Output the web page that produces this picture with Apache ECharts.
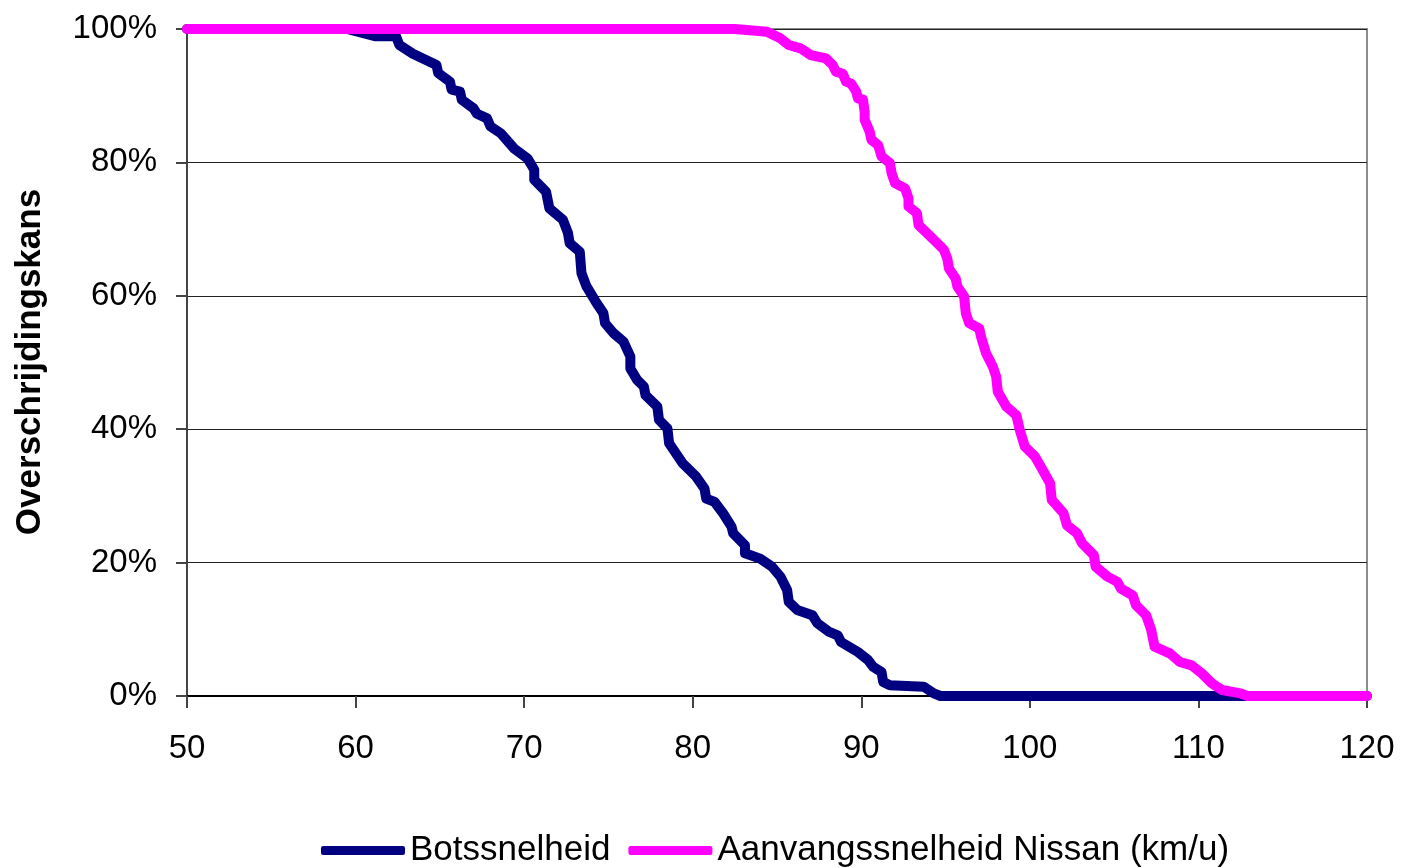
<!DOCTYPE html>
<html>
<head>
<meta charset="utf-8">
<script src="https://cdn.jsdelivr.net/npm/echarts@6/dist/echarts.min.js"></script>
<style>
html,body{margin:0;padding:0;background:#fff;}
#chart{width:1403px;height:868px;}
</style>
</head>
<body>
<div id="chart"></div>
<script>
// overschrijdingskans (%) tegen snelheid (km/u)
var seriesNames = ['Botssnelheid', 'Aanvangssnelheid Nissan (km/u)'];
var xTicks = [50, 60, 70, 80, 90, 100, 110, 120];
var yTicks = [0, 20, 40, 60, 80, 100];

var botsData = [
	[50,100],[59.5,100],[61.2,98.9],[62.4,98.9],[62.6,97.6],[63.4,96.3],[64.8,94.6],[64.9,93.4],
	[65.6,92.1],[65.7,90.9],[66.2,90.6],[66.3,89.4],[67.0,88.1],[67.2,87.3],[67.8,86.6],[68.0,85.4],
	[68.6,84.4],[69.4,82.1],[70.2,80.6],[70.6,78.9],[70.6,77.4],[71.3,75.6],[71.5,73.1],[72.3,71.4],
	[72.6,69.4],[72.7,67.9],[73.3,66.6],[73.4,63.4],[73.7,61.4],[74.3,58.9],[74.7,57.4],[74.8,55.9],
	[75.3,54.4],[75.9,53.1],[76.3,50.9],[76.3,49.1],[76.7,47.4],[77.1,46.4],[77.2,45.1],[77.9,43.4],
	[78.0,41.4],[78.5,40.1],[78.6,37.9],[79.4,34.9],[80.2,32.9],[80.7,31.1],[80.8,29.6],[81.3,29.1],
	[81.8,27.4],[82.3,25.4],[82.4,24.4],[83.1,22.6],[83.1,21.4],[84.0,20.6],[84.7,19.4],[85.2,17.9],
	[85.6,15.9],[85.7,14.1],[86.2,12.9],[87.1,12.1],[87.4,10.9],[88.1,9.6],[88.6,9.1],[88.8,8.1],
	[89.8,6.6],[90.4,5.4],[90.7,4.4],[91.2,3.6],[91.3,2.1],[91.7,1.6],[93.7,1.4],[94.3,0.4],
	[94.7,0],[120,0]
];

var nissanData = [
	[50,100],[82.5,100],[84.4,99.6],[85.2,98.6],[85.7,97.6],[86.4,97.1],[87.0,96.1],[87.9,95.6],
	[88.3,94.6],[88.5,93.6],[88.9,93.3],[89.1,92.1],[89.4,91.8],[89.7,90.6],[89.8,89.6],[90.1,89.4],
	[90.2,87.6],[90.2,86.4],[90.5,84.6],[90.6,83.4],[91.0,82.6],[91.2,80.9],[91.7,79.9],[91.8,78.4],
	[92.0,76.9],[92.6,76.1],[92.8,74.6],[92.8,73.4],[93.3,72.4],[93.4,70.6],[93.9,69.4],[94.3,68.4],
	[94.9,66.9],[95.1,65.6],[95.2,64.1],[95.6,62.6],[95.7,61.4],[96.1,59.9],[96.2,57.4],[96.4,55.9],
	[97.0,55.1],[97.1,53.9],[97.4,51.4],[97.8,49.4],[98.0,47.9],[98.1,45.6],[98.6,43.4],[99.2,42.1],
	[99.4,39.9],[99.7,37.4],[100.3,35.9],[100.6,34.6],[101.2,31.9],[101.3,29.4],[102.0,27.4],[102.2,25.6],
	[102.8,24.4],[103.1,22.9],[103.8,21.1],[103.9,19.4],[104.6,17.9],[105.2,17.1],[105.4,16.1],[106.1,15.1],
	[106.3,13.6],[106.9,12.1],[107.2,9.9],[107.4,7.4],[108.3,6.4],[108.9,5.1],[109.6,4.6],[110.2,3.4],
	[110.8,1.9],[111.4,0.9],[112.5,0.4],[112.9,0],[120,0]
];

var font = '"Liberation Sans", Arial, sans-serif';

var myChart = echarts.init(document.getElementById('chart'));
var option = {
	backgroundColor: '#fff',
	animation: false,
	grid: {
		left: 187, right: 36, top: 29, bottom: 172,
		show: true, borderColor: '#8c8c8c', borderWidth: 2
	},
	legend: {
		left: 316, top: 828,
		itemWidth: 84, itemHeight: 9, itemGap: 18,
		icon: 'roundRect',
		textStyle: { fontFamily: font, fontSize: 35, color: '#000' },
		data: seriesNames
	},
	graphic: [{
		type: 'text',
		x: 30, y: 362,
		rotation: Math.PI / 2,
		style: {
			text: 'Overschrijdingskans',
			font: 'bold 35px ' + font,
			fill: '#000',
			textAlign: 'center',
			textVerticalAlign: 'middle'
		}
	}],
	xAxis: {
		type: 'value',
		min: xTicks[0], max: xTicks[xTicks.length - 1], interval: 10,
		axisLine: { lineStyle: { color: '#000', width: 2 } },
		axisTick: { show: true, length: 12, lineStyle: { color: '#444', width: 2 } },
		axisLabel: { fontFamily: font, fontSize: 33, color: '#000', margin: 36 },
		splitLine: { show: false }
	},
	yAxis: {
		type: 'value',
		min: yTicks[0], max: yTicks[yTicks.length - 1], interval: 20,
		axisLine: { show: true, lineStyle: { color: '#444', width: 2 } },
		axisTick: { show: true, length: 11, lineStyle: { color: '#444', width: 2 } },
		axisLabel: { fontFamily: font, fontSize: 33, color: '#000', margin: 30, formatter: '{value}%' },
		splitLine: { show: true, lineStyle: { color: '#222', width: 1 } }
	},
	series: [
		{
			name: seriesNames[0],
			type: 'line',
			data: botsData,
			showSymbol: false,
			symbol: 'none',
			color: '#000080',
			lineStyle: { width: 10, color: '#000080', join: 'round', cap: 'round' }
		},
		{
			name: seriesNames[1],
			type: 'line',
			data: nissanData,
			showSymbol: false,
			symbol: 'none',
			color: '#ff00ff',
			lineStyle: { width: 10, color: '#ff00ff', join: 'round', cap: 'round' }
		}
	]
};
myChart.setOption(option);
</script>
</body>
</html>
